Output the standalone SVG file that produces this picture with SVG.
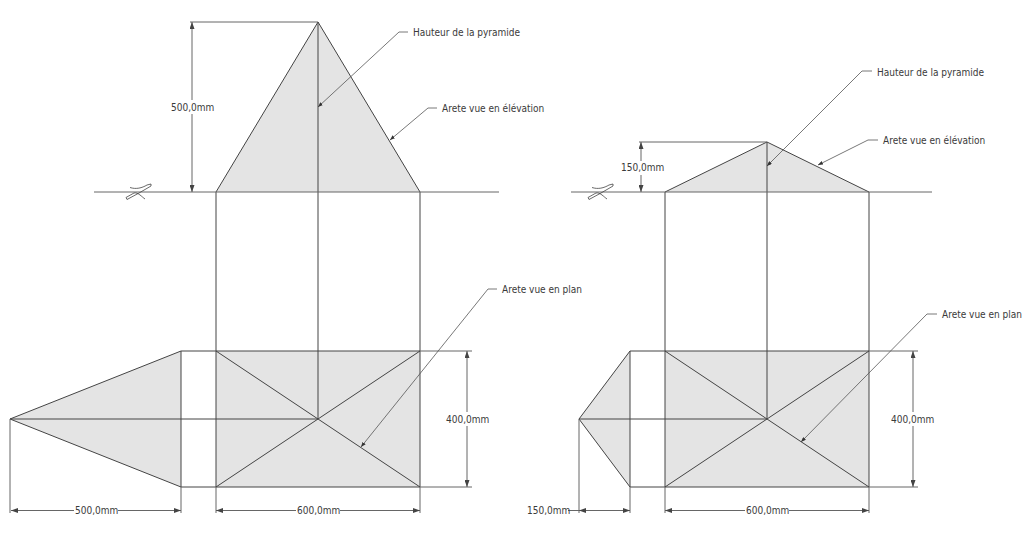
<svg xmlns="http://www.w3.org/2000/svg" width="1024" height="559" viewBox="0 0 1024 559">
<style>
text{font-family:"DejaVu Sans",Verdana,sans-serif;font-stretch:condensed;font-size:10px;fill:#3a3a3a}
.f{fill:#e4e4e4;stroke:none}
.l{stroke:#444;stroke-width:1;fill:none}
.d{stroke:#666;stroke-width:1;fill:none}
.a{stroke:#555;stroke-width:.8;fill:none;marker-end:url(#s)}
.dim{stroke:#666;stroke-width:1;fill:none;marker-start:url(#b);marker-end:url(#b)}
.bg{fill:#fff;stroke:none}
</style>
<defs>
<marker id="b" viewBox="0 0 7 5" refX="7" refY="2.500" markerWidth="7" markerHeight="5" markerUnits="userSpaceOnUse" orient="auto-start-reverse"><path d="M0 0L7 2.500L0 5z" fill="#444"/></marker>
<marker id="s" viewBox="0 0 5 4" refX="5" refY="2" markerWidth="5" markerHeight="4" markerUnits="userSpaceOnUse" orient="auto"><path d="M0 0L5 2L0 4z" fill="#333"/></marker>
<path id="sym" fill="none" stroke="#444" stroke-width=".8" d="M-5 -4.500C1 -2.500 7 -4 12 -7L16 -8L16 -6L4 1L-8 7.500L-9 5.500L-1 1C3 0 7 5 10 7"/>
</defs>
<g id="left-view">
<path class="f" d="M216 192L318 22L420 192z"/>
<rect class="f" x="216" y="351" width="204" height="136"/>
<path class="f" d="M10 419L181 351V487z"/>
<path class="l" d="M216 192L318 22L420 192M318 22V419M216 192V487M420 192V487M181 351H420M181 487H420M181 351V487M10 419H318M10 419L181 351M10 419L181 487M216 351L420 487M216 487L420 351"/>
<path class="d" d="M94 192H499M190 22H318M420 351H472M420 487H472M10 419V513M181 487V513M216 487V513M420 487V513"/>
<use href="#sym" x="135" y="192"/>
</g>
<g id="right-view">
<path class="f" d="M665 192L767 142L869 192z"/>
<rect class="f" x="665" y="351" width="204" height="136"/>
<path class="f" d="M579 419L630 351V487z"/>
<path class="l" d="M665 192L767 142L869 192M767 142V419M665 192V487M869 192V487M630 351H869M630 487H869M630 351V487M579 419H767M579 419L630 351M579 419L630 487M665 351L869 487M665 487L869 351"/>
<path class="d" d="M571 192H932M639 142H767M869 351H918M869 487H918M579 419V513M630 487V513M665 487V513M869 487V513M568 510.500H579"/>
<use href="#sym" x="597" y="192"/>
</g>
<g id="connectors">
<path class="dim" d="M192 22V192"/>
<path class="dim" d="M11 510.500H181"/>
<path class="dim" d="M216 510.500H420"/>
<path class="dim" d="M467 351V487"/>
<path class="dim" d="M641 142V192"/>
<path class="dim" d="M579 510.500H630"/>
<path class="dim" d="M665 510.500H869"/>
<path class="dim" d="M913 351V487"/>
<path class="a" d="M408 32H399L318 107"/>
<path class="a" d="M437 108H428L390 140"/>
<path class="a" d="M497 289H488L361 447"/>
<path class="a" d="M872 71H862L767 166"/>
<path class="a" d="M878 140H868L818 165"/>
<path class="a" d="M937 314H927L801 442"/>
</g>
<g id="labels">
<rect class="bg" x="170" y="100" width="44" height="14"/><text x="171" y="111">500,0mm</text>
<rect class="bg" x="74" y="504" width="44" height="14"/><text x="75" y="514">500,0mm</text>
<rect class="bg" x="296" y="504" width="44" height="14"/><text x="297" y="514">600,0mm</text>
<rect class="bg" x="445" y="412" width="44" height="14"/><text x="446" y="423">400,0mm</text>
<rect class="bg" x="620" y="161" width="44" height="14"/><text x="621" y="171">150,0mm</text>
<text x="527" y="514">150,0mm</text>
<rect class="bg" x="745" y="504" width="44" height="14"/><text x="746" y="514">600,0mm</text>
<rect class="bg" x="890" y="412" width="44" height="14"/><text x="891" y="423">400,0mm</text>
<text x="413" y="36">Hauteur de la pyramide</text>
<text x="442" y="112">Arete vue en élévation</text>
<text x="502" y="293">Arete vue en plan</text>
<text x="877" y="76">Hauteur de la pyramide</text>
<text x="883" y="144">Arete vue en élévation</text>
<text x="942" y="318">Arete vue en plan</text>
</g>
</svg>
